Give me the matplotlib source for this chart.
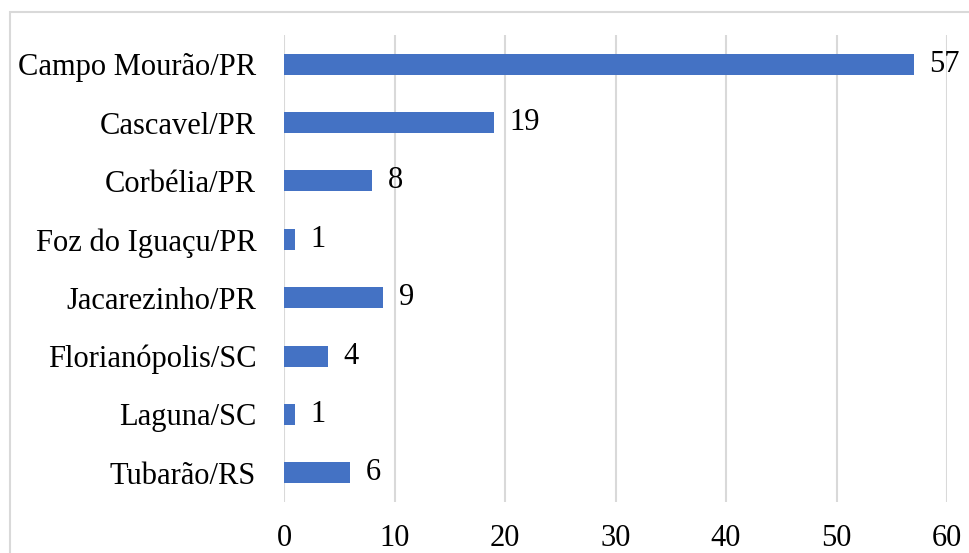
import matplotlib.pyplot as plt
from matplotlib.patches import Rectangle

cities = ["Campo Mourão/PR", "Cascavel/PR", "Corbélia/PR", "Foz do Iguaçu/PR",
          "Jacarezinho/PR", "Florianópolis/SC", "Laguna/SC", "Tubarão/RS"]
counts = [57, 19, 8, 1, 9, 4, 1, 6]

plt.rcParams['font.family'] = ['Liberation Serif', 'DejaVu Serif']

fig = plt.figure(figsize=(9.69, 5.53), dpi=100)
ax = fig.add_axes([284 / 969, 1 - 502 / 553, (947 - 284) / 969, (502 - 35) / 553])

# outer chart border (top/left visible only)
fig.patches.append(Rectangle((10 / 969, -0.05), 1.0, 1 - 12 / 553 + 0.05,
                             transform=fig.transFigure, fill=False,
                             edgecolor='#d9d9d9', linewidth=1.5))

y = list(range(len(cities)))
ax.barh(y, counts, height=0.36, color='#4472C4', zorder=3)
for yi, v in zip(y, counts):
    ax.annotate(str(v), (v, yi), xytext=(11, 0), textcoords='offset points',
                ha='left', va='center', fontsize=22, zorder=4)

ax.set_xlim(0, 60)
ax.set_ylim(len(cities) - 0.5, -0.5)
ax.set_yticks(y)
ax.set_yticklabels(cities, fontsize=22)
ax.set_xticks(range(0, 61, 10))
ax.tick_params(axis='x', labelsize=22, length=0, pad=16)
ax.tick_params(axis='y', length=0, pad=20)
ax.grid(axis='x', color='#d9d9d9', linewidth=1.5, zorder=0)
for s in ax.spines.values():
    s.set_visible(False)

fig.savefig('out.png', dpi=100)
